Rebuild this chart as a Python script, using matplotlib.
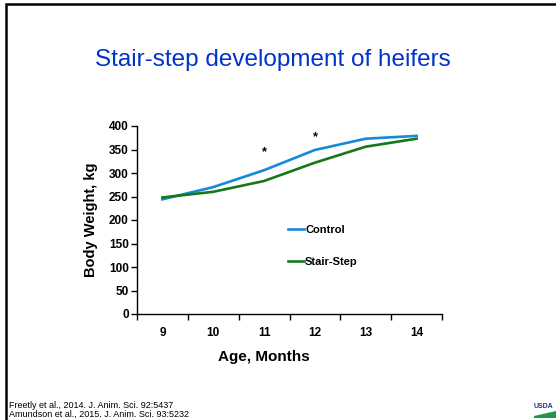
import matplotlib.pyplot as plt
from matplotlib.patches import Rectangle, Polygon

plt.rcParams['font.family'] = ['Liberation Sans', 'DejaVu Sans']

# body weight by age (kg)
months = [9, 10, 11, 12, 13, 14]
control = [244, 270, 306, 349, 373, 379]
stair_step = [248, 260, 283, 322, 356, 373]

# months with a significant difference, and where the star sits
sig_months = [11, 12]
sig_heights = [345, 377]

fig = plt.figure(figsize=(5.56, 4.2), dpi=100)

# slide frame (top and left edge visible)
fig.patches.append(Rectangle((6 / 556, -0.1), 1.2, 1 - 4 / 420 + 0.1,
                             transform=fig.transFigure, fill=False,
                             edgecolor='black', linewidth=1.8))

fig.text(0.49, 0.857, 'Stair-step development of heifers', ha='center',
         va='center', fontsize=17.5, color='#0033CC')

ax = fig.add_axes([137 / 556, 1 - 314 / 420, 305 / 556, 188 / 420])
ax.plot(months, control, color='#138BD6', linewidth=1.9, label='Control')
ax.plot(months, stair_step, color='#16781A', linewidth=1.9, label='Stair-Step')

for m, h in zip(sig_months, sig_heights):
    ax.text(m, h, '*', ha='center', va='center', fontsize=9, fontweight='bold')

ax.set_xlim(8.5, 14.5)
ax.set_ylim(0, 400)
ax.set_yticks(range(0, 401, 50))
ax.set_xticks(months)
ax.set_xticks([8.5 + i for i in range(7)], minor=True)
ax.tick_params(axis='x', which='major', length=0, pad=9)
ax.tick_params(axis='x', which='minor', length=4, width=1)
ax.tick_params(axis='y', length=4, width=1, pad=2)
for lab in ax.get_xticklabels() + ax.get_yticklabels():
    lab.set_fontsize(8.5)
    lab.set_fontweight('bold')
for side in ['top', 'right']:
    ax.spines[side].set_visible(False)
for side in ['left', 'bottom']:
    ax.spines[side].set_linewidth(1)

ax.set_xlabel('Age, Months', fontsize=11, fontweight='bold')
ax.xaxis.set_label_coords(2.5 / 6, -0.19)
ax.set_ylabel('Body Weight, kg', fontsize=10.5, fontweight='bold', labelpad=8)

ax.legend(loc='upper left', bbox_to_anchor=(278 / 556, 1 - 215 / 420),
          bbox_transform=fig.transFigure, frameon=False, handlelength=1.4,
          handletextpad=0.15, labelspacing=2.0,
          prop={'size': 8, 'weight': 'bold'})

fig.text(9 / 556, 1 - 405 / 420, 'Freetly et al., 2014. J. Anim. Sci. 92:5437',
         fontsize=6.5, va='center')
fig.text(9 / 556, 1 - 414 / 420, 'Amundson et al., 2015. J. Anim. Sci. 93:5232',
         fontsize=6.5, va='center')

# small agency mark in the corner
fig.text(534 / 556, 1 - 406 / 420, 'USDA', fontsize=5, color='#1A3C8C',
         fontweight='bold', va='center')
fig.patches.append(Polygon([(534 / 556, 1 - 416 / 420), (556 / 556, 1 - 411 / 420),
                            (556 / 556, 1 - 418 / 420), (534 / 556, 1 - 418 / 420)],
                           closed=True, transform=fig.transFigure,
                           facecolor='#1C9A4A', edgecolor='none'))

fig.savefig('out.png', dpi=100)
